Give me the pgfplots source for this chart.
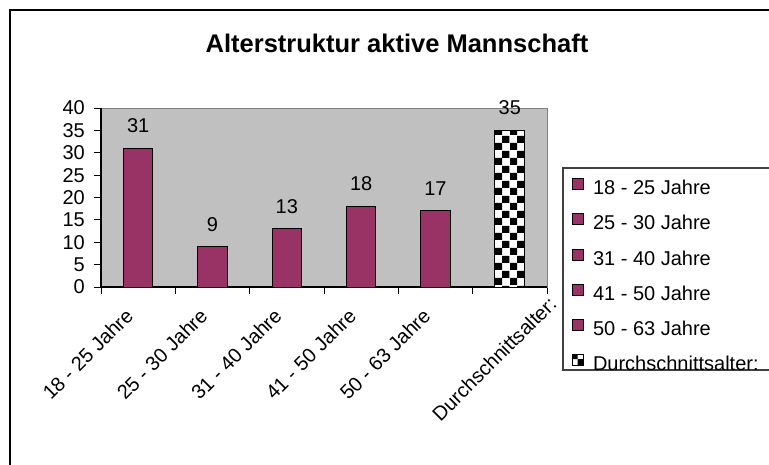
\documentclass[border=0pt]{standalone}
\usepackage{pgfplots}
\pgfplotsset{compat=1.18}
\usepackage{fontspec}
\setmainfont{Liberation Sans}
\usetikzlibrary{patterns}
\definecolor{plum}{HTML}{993366}
\definecolor{bggray}{HTML}{C0C0C0}
\pgfdeclarepatternformonly{checker}{\pgfpointorigin}{\pgfpoint{15pt}{15pt}}{\pgfpoint{15pt}{15pt}}{%
 \pgfpathrectangle{\pgfpointorigin}{\pgfpoint{7.5pt}{7.5pt}}%
 \pgfpathrectangle{\pgfpoint{7.5pt}{7.5pt}}{\pgfpoint{7.5pt}{7.5pt}}%
 \pgfusepath{fill}}
\newcommand{\fs}{\fontsize{20}{24}\selectfont}
\begin{document}
\begin{tikzpicture}
\useasboundingbox (0,0) rectangle (769pt,-464pt);
\fill[white] (0,0) rectangle (769pt,-464pt);
\draw[black, line width=2pt] (10pt,-470pt) -- (10pt,-10pt) -- (780pt,-10pt);
\node[anchor=base, inner sep=0pt, font=\fontsize{25.5}{30}\selectfont\bfseries] at (397pt,-52pt) {Alterstruktur aktive Mannschaft};
\draw[black!75, line width=1.2pt, fill=white] (563pt,-168pt) rectangle (790pt,-370pt);
% boundary tick marks
\begin{axis}[
 at={(101pt,-287pt)}, anchor=south west,
 width=446pt, height=179pt, scale only axis,
 xmin=-0.5, xmax=5.5, ymin=0, ymax=40,
 xtick={-0.5,0.5,1.5,2.5,3.5,4.5,5.5}, xticklabels={},
 ytick=\empty, axis line style={draw=none},
 xtick pos=bottom, tick align=center, major tick length=13pt,
 xtick style={black, line width=1pt},
]
\end{axis}
\begin{axis}[
 at={(101pt,-287pt)}, anchor=south west,
 width=446pt, height=179pt, scale only axis,
 xmin=-0.5, xmax=5.5, ymin=0, ymax=40,
 clip=false,
 ytick={0,5,...,40},
 axis background/.style={fill=bggray, draw=gray, line width=1pt},
 axis x line*=bottom, axis y line*=left,
 axis line style={black, line width=1.2pt, -},
 tick align=outside, major tick length=7pt,
 ytick style={black, line width=1pt},
 xtick={0,1,2,3,4},
 xticklabels={18 - 25 Jahre, 25 - 30 Jahre, 31 - 40 Jahre, 41 - 50 Jahre, 50 - 63 Jahre},
 extra x ticks={5}, extra x tick labels={Durchschnittsalter:},
 xtick style={draw=none},
 tick label style={font=\fs},
 /pgf/number format/assume math mode=true,
 yticklabel style={font=\fs, inner sep=0pt, xshift=-9pt},
 xticklabel style={font=\fs, xshift=-14pt, yshift=-13pt, rotate=45, anchor=north east, inner sep=0pt},
 extra x tick style={xticklabel style={xshift=45pt, yshift=-28pt}},
 legend image code/.code={\draw[#1, line width=0.8pt] (0pt,0pt) rectangle (11pt,11pt);},
 legend cell align=left,
 legend style={draw=none, fill=none, inner sep=0pt, font=\fs,
   at={(1.0561,0.6089)}, anchor=north west, row sep=13.8pt, column sep=9pt,
   nodes={inner sep=0pt, text height=15pt, text depth=5pt}},
 every node near coord/.append style={font=\fs, anchor=base, inner sep=0pt, yshift=15.5pt},
]
\addplot[ybar, bar shift=0pt, bar width=29.5pt, fill=plum, draw=black, line width=1pt, nodes near coords] coordinates {(0,31)};
\addlegendentry{18 - 25 Jahre}
\addplot[ybar, bar shift=0pt, bar width=29.5pt, fill=plum, draw=black, line width=1pt, nodes near coords] coordinates {(1,9)};
\addlegendentry{25 - 30 Jahre}
\addplot[ybar, bar shift=0pt, bar width=29.5pt, fill=plum, draw=black, line width=1pt, nodes near coords] coordinates {(2,13)};
\addlegendentry{31 - 40 Jahre}
\addplot[ybar, bar shift=0pt, bar width=29.5pt, fill=plum, draw=black, line width=1pt, nodes near coords] coordinates {(3,18)};
\addlegendentry{41 - 50 Jahre}
\addplot[ybar, bar shift=0pt, bar width=29.5pt, fill=plum, draw=black, line width=1pt, nodes near coords] coordinates {(4,17)};
\addlegendentry{50 - 63 Jahre}
\addplot[ybar, bar shift=0pt, bar width=30pt, preaction={fill=white}, pattern=checker, draw=black, line width=1pt, nodes near coords] coordinates {(5,35)};
\addlegendentry{Durchschnittsalter:}
\end{axis}
\end{tikzpicture}
\end{document}
